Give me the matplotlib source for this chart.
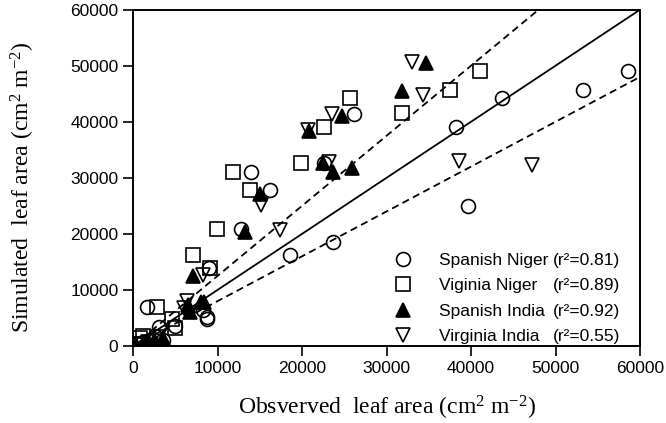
import matplotlib
matplotlib.use("Agg")
import matplotlib.pyplot as plt
from matplotlib.lines import Line2D
import numpy as np

plt.rcParams['font.family'] = ['Liberation Sans', 'DejaVu Sans']
plt.rcParams['mathtext.default'] = 'regular'

# Spanish Niger (open circles)
sn_obs = [500, 1200, 2000, 2600, 3100, 3600, 1600, 5000, 8300, 8700, 8800, 9000,
          12800, 14000, 16200, 18600, 22600, 23700, 26100, 38200, 39600, 43600, 53200, 58600]
sn_sim = [300, 700, 1100, 1800, 3400, 1100, 6900, 3600, 6400, 5200, 4800, 13900,
          20900, 31000, 27900, 16300, 32700, 18600, 41400, 39100, 25000, 44300, 45600, 49000]

# Viginia Niger (open squares)
vn_obs = [600, 800, 1200, 2800, 4600, 5000, 7100, 9100, 9900, 11800, 13800,
          19900, 22600, 25700, 31800, 37500, 41000]
vn_sim = [400, 1400, 1700, 6900, 4900, 3200, 16300, 13900, 20900, 31000, 27900,
          32700, 39100, 44300, 41500, 45600, 49000]

# Spanish India (filled triangles)
si_obs = [400, 1500, 2500, 3500, 6500, 6700, 7100, 8100, 8400, 13300, 15000,
          20800, 22500, 23600, 24700, 25900, 31800, 34700]
si_sim = [200, 600, 900, 1500, 7300, 6100, 12400, 7900, 7900, 20300, 27100,
          38400, 32600, 31100, 41000, 31700, 45400, 50500]

# Virginia India (open down triangles)
vi_obs = [500, 1800, 3000, 6000, 6400, 8300, 15100, 17400, 20700, 23200, 23500,
          33000, 34300, 38600, 47200]
vi_sim = [300, 800, 1600, 6700, 8100, 12700, 25100, 20700, 38600, 32900, 41300,
          50700, 44800, 33000, 32300]

names = ["Spanish Niger", "Viginia Niger", "Spanish India", "Virginia India"]
r2_labels = ["(r\u00b2=0.81)", "(r\u00b2=0.89)", "(r\u00b2=0.92)", "(r\u00b2=0.55)"]

fig = plt.figure(figsize=(6.66, 4.23), dpi=100)
ax = fig.add_axes([0.1997, 0.182, 0.7616, 0.7955])

ms = 10
ew = 1.2
h1, = ax.plot(sn_obs, sn_sim, 'o', ms=ms, mfc='none', mec='black', mew=ew, label=names[0])
h2, = ax.plot(vn_obs, vn_sim, 's', ms=ms, mfc='none', mec='black', mew=ew, label=names[1])
h3, = ax.plot(si_obs, si_sim, '^', ms=ms, mfc='black', mec='black', mew=ew, label=names[2])
h4, = ax.plot(vi_obs, vi_sim, 'v', ms=ms, mfc='none', mec='black', mew=ew, label=names[3])

# 1:1 line and +/- bounds
xl = np.array([0, 60000])
ax.plot(xl, xl, color='black', lw=1.3)
ax.plot(xl, 1.25 * xl, color='black', lw=1.3, ls=(0, (4, 2.5)))
ax.plot(xl, 0.8 * xl, color='black', lw=1.3, ls=(0, (4, 2.5)))

ax.set_xlim(0, 60000)
ax.set_ylim(0, 60000)
ax.set_xticks(np.arange(0, 60001, 10000))
ax.set_yticks(np.arange(0, 60001, 10000))
ax.tick_params(direction='out', length=7, width=1.2, labelsize=12.5, colors='black')
for s in ax.spines.values():
    s.set_linewidth(1.4)

ax.set_xlabel("Obsverved  leaf area (cm$^{2}$ m$^{-2}$)", family='Liberation Serif',
              fontsize=17, labelpad=13)
ax.set_ylabel("Simulated  leaf area (cm$^{2}$ m$^{-2}$)", family='Liberation Serif',
              fontsize=17)
ax.yaxis.set_label_coords(-0.19, 0.4725)

leg1 = ax.legend(handles=[h1, h2, h3, h4], loc='lower left', bbox_to_anchor=(0.515, 0.006),
                 frameon=False, fontsize=12.5, handlelength=1.0, handletextpad=1.6,
                 labelspacing=0.59, borderpad=0, borderaxespad=0, numpoints=1)
ax.add_artist(leg1)
blank = [Line2D([], [], ls='none') for _ in r2_labels]
ax.legend(handles=blank, labels=r2_labels, loc='lower left', bbox_to_anchor=(0.828, 0.006),
          frameon=False, fontsize=12.5, handlelength=0, handletextpad=0,
          labelspacing=0.59, borderpad=0, borderaxespad=0)

fig.savefig("out.png", dpi=100)
